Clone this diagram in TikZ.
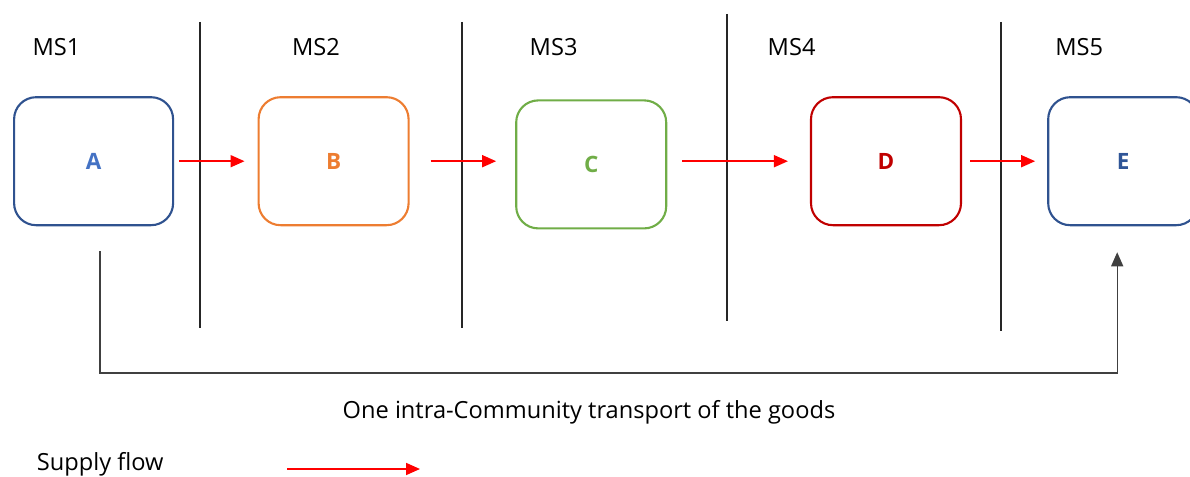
\documentclass[tikz,border=0pt]{standalone}
\usepackage{fontspec}
\setmainfont{Open Sans}
\usetikzlibrary{arrows.meta, positioning, calc}
\definecolor{boxblue}{HTML}{2F528F}
\definecolor{letterblue}{HTML}{4472C4}
\definecolor{darkblue}{HTML}{2F5597}
\definecolor{msorange}{HTML}{ED7D31}
\definecolor{msgreen}{HTML}{70AD47}
\definecolor{msred}{HTML}{C00000}
\definecolor{flowred}{HTML}{FF0000}
\definecolor{sepgray}{HTML}{262626}
\definecolor{routegray}{HTML}{404040}

\begin{document}
\begin{tikzpicture}[
    box/.style={draw, rounded corners=0.55cm, line width=1.5pt, minimum width=3.75cm, minimum height=3.2cm, font=\fontsize{16}{19}\selectfont\bfseries},
    lbl/.style={font=\fontsize{16.8}{20}\selectfont},
    sep/.style={line width=0.8pt, draw=sepgray},
    flow/.style={-{Triangle[length=0.35cm,width=0.3cm]}, line width=1.2pt, color=flowred},
    route/.style={-{Triangle[length=0.35cm,width=0.3cm]}, line width=0.9pt, color=routegray}
]
    \useasboundingbox (0,0) rectangle (29.75,-11.925);
    \clip (0,0) rectangle (29.75,-11.925);

    % Mitgliedstaaten
    \node[lbl] (ms1) at (1.41,-1.18) {MS1};
    \node[lbl] (ms2) at (7.9,-1.18) {MS2};
    \node[lbl] (ms3) at (13.84,-1.18) {MS3};
    \node[lbl] (ms4) at (19.79,-1.18) {MS4};
    \node[lbl] (ms5) at (26.98,-1.18) {MS5};

    % Grenzen
    \draw[sep] (5,-0.55) -- (5,-8.2);
    \draw[sep] (11.55,-0.55) -- (11.55,-8.2);
    \draw[sep] (18.175,-0.35) -- (18.175,-8.025);
    \draw[sep] (25.025,-0.55) -- (25.025,-8.275);

    % Unternehmen
    \node[box, draw=boxblue, text=letterblue, minimum width=3.975cm] (A) at (2.34,-4.03) {A};
    \node[box, draw=msorange, text=msorange] (B) at (8.34,-4.03) {B};
    \node[box, draw=msgreen, text=msgreen] (C) at (14.78,-4.11) {C};
    \node[box, draw=msred, text=msred] (D) at (22.15,-4.03) {D};
    \node[box, draw=boxblue, text=darkblue] (E) at (28.08,-4.03) {E};

    % Lieferungen
    \draw[flow, shorten <=0.125cm, shorten >=0.325cm] (A.east) -- (A.east -| B.west);
    \draw[flow, shorten <=0.525cm, shorten >=0.475cm] (B.east) -- (B.east -| C.west);
    \draw[flow, shorten <=0.375cm, shorten >=0.55cm] (D.west -| C.east) -- (D.west);
    \draw[flow, shorten <=0.2cm, shorten >=0.3cm] (D.east) -- (D.east -| E.west);

    % Transport
    \coordinate (low) at (0,-9.325);
    \coordinate (src) at ([xshift=0.16cm,yshift=-0.625cm]A.south);
    \coordinate (dst) at ([xshift=-0.15cm,yshift=-0.65cm]E.south);
    \draw[route] (src) -- (src |- low) -| (dst);
    \node[lbl, anchor=base] (trans) at (14.725,-10.45) {One intra-Community transport of the goods};

    % Legende
    \node[lbl, anchor=base west] (supply) at (0.8,-11.76) {Supply flow};
    \coordinate (lgs) at (7.175,-11.725);
    \coordinate (lge) at (10.5,-11.725);
    \draw[flow] (lgs) -- (lge);
\end{tikzpicture}
\end{document}
